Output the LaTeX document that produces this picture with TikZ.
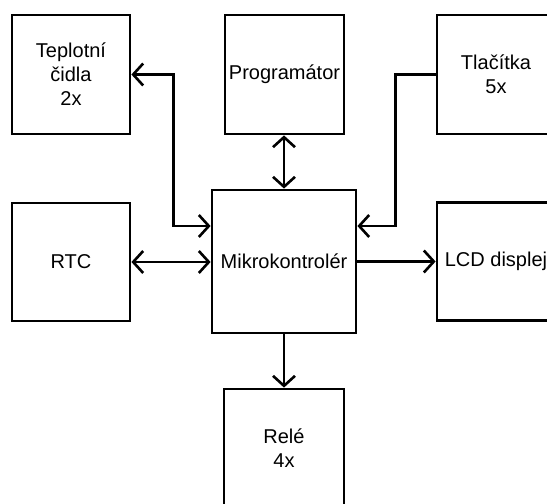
\documentclass[tikz,border=0pt]{standalone}
\usepackage{fontspec}
\setmainfont{Liberation Sans}
\usetikzlibrary{arrows.meta,calc}
\tikzset{
  blk/.style={draw, line width=2.8pt, inner sep=0pt, align=center,
    font=\fontsize{20}{24}\selectfont},
  conn/.style={line width=2.6pt},
  tipend/.style={conn, -{Straight Barb[length=10pt,width=22pt]}},
  tipboth/.style={conn, {Straight Barb[length=10pt,width=22pt]}-{Straight Barb[length=10pt,width=22pt]}}
}
\begin{document}
\begin{tikzpicture}[x=1pt,y=-1pt]
\useasboundingbox (0,0) rectangle (547,504);
\clip (0,0) rectangle (547,504);
\fill[white] (0,0) rectangle (547,504);
\node[blk, minimum width=118pt, minimum height=119pt] (tep) at (71,74.5) {Teplotní\\čidla\\2x};
\node[blk, minimum width=119pt, minimum height=119pt] (prog) at (284.5,74.5) {Programátor};
\node[blk, minimum width=118pt, minimum height=119pt] (tla) at (496,74.5) {Tlačítka\\5x};
\node[blk, minimum width=118pt, minimum height=118pt] (rtc) at (71,262) {RTC};
\node[blk, minimum width=144pt, minimum height=143pt] (mik) at (284,261.5) {Mikrokontrolér};
\node[blk, minimum width=130pt, minimum height=118pt] (lcd) at (502,261.5) {};
\node[font=\fontsize{20}{24}\selectfont, inner sep=0pt] (lcdt) at (496,261.5) {LCD displej};
\node[blk, minimum width=120pt, minimum height=119pt] (rele) at (284,448.5) {Relé\\4x};
\draw[tipboth] (tep.east) -- ++(42,0) |- ($(mik.west)+(0,-35.5)$);
\draw[tipboth] (prog.south -| mik.north) -- (mik.north);
\draw[tipend] (tla.west) -- ++(-40,0) |- ($(mik.east)+(0,-35.5)$);
\draw[tipboth] (rtc.east) -- (rtc.east -| mik.west);
\draw[tipend] (mik.east) -- (mik.east -| lcd.west);
\draw[tipend] (mik.south) -- (rele.north);
\end{tikzpicture}
\end{document}
